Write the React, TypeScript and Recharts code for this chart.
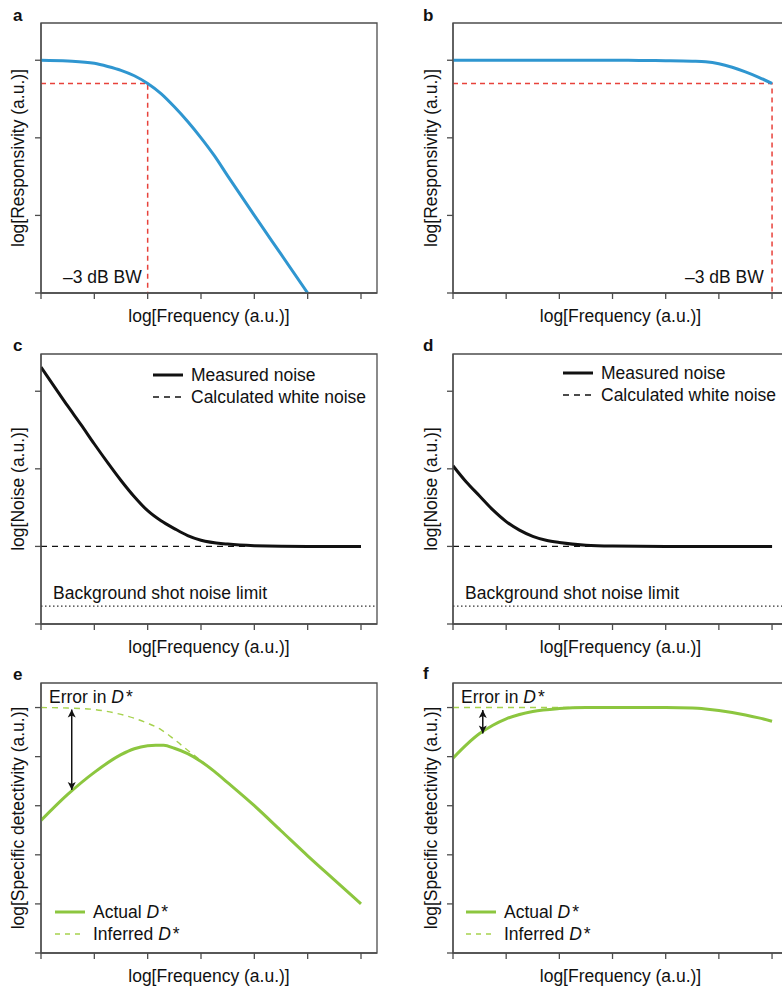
import React from "react";
import { LineChart, Line, XAxis, YAxis, ReferenceArea, Label, Legend } from "recharts";

const FONT = '"Liberation Sans", Arial, Helvetica, sans-serif';
const INK = "#111";
const AXIS = "#4d4d4d";
const BLUE = "#2f96d0";
const RED = "#e8423b";
const GREEN = "#8cc63f";
const GREEN_LIGHT = "#a6d24e";

// shared axes (arbitrary log units)
const freqTicks = [0, 1, 2, 3, 4, 5, 6];
const freqMax = 6.3;
const levelTicks = [0, 1, 2, 3];
const levelMax = 3.48;
const detTicks = [0, 1, 2, 3, 4, 5];
const detMax = 5.5;
const xTitle = "log[Frequency (a.u.)]";

// a: slow detector responsivity
const respAFreq = [0, 0.5, 1, 1.25, 1.5, 1.75, 2, 2.25, 2.5, 2.75, 3, 3.25, 3.5, 4, 4.5, 5];
const respAValue = [3.0, 2.99, 2.96, 2.92, 2.87, 2.8, 2.7, 2.57, 2.4, 2.21, 2.0, 1.77, 1.51, 1.0, 0.5, 0.0];
const bwAFreq = [0, 2, 2];
const bwAValue = [2.7, 2.7, 0];

// b: fast detector responsivity
const respBFreq = [0, 1, 2, 3, 3.5, 4, 4.5, 4.75, 5, 5.25, 5.5, 5.75, 6];
const respBValue = [3.0, 3.0, 3.0, 3.0, 2.998, 2.995, 2.988, 2.98, 2.955, 2.91, 2.85, 2.78, 2.7];
const bwBFreq = [0, 6, 6];
const bwBValue = [2.7, 2.7, 0];

// c, d: noise spectra
const noiseCFreq = [0, 0.25, 0.5, 0.75, 1, 1.25, 1.5, 1.75, 2, 2.25, 2.5, 2.75, 3, 3.5, 4, 5, 6];
const noiseCValue = [3.31, 3.06, 2.81, 2.57, 2.32, 2.08, 1.85, 1.64, 1.46, 1.33, 1.23, 1.14, 1.08, 1.03, 1.01, 1.0, 1.0];
const noiseDFreq = [0, 0.25, 0.5, 0.75, 1, 1.25, 1.5, 1.75, 2, 2.5, 3, 4, 5, 6];
const noiseDValue = [2.04, 1.83, 1.65, 1.47, 1.32, 1.21, 1.13, 1.08, 1.05, 1.015, 1.005, 1.0, 1.0, 1.0];
const whiteFreq = [0, 6];
const whiteValue = [1.0, 1.0];
const shotFreq = [0, freqMax];
const shotValue = [0.23, 0.23];
const noiseLegend = ["Measured noise", "Calculated white noise"];

// e, f: specific detectivity
const detEFreq = [0, 0.5, 1, 1.5, 1.75, 2, 2.15, 2.3, 2.5, 2.75, 3, 3.25, 3.5, 4, 4.5, 5, 5.5, 6];
const detEValue = [2.7, 3.23, 3.68, 4.04, 4.16, 4.22, 4.23, 4.23, 4.17, 4.06, 3.9, 3.7, 3.47, 3.0, 2.49, 1.98, 1.49, 1.0];
const infEFreq = [0, 0.5, 1, 1.5, 2, 2.25, 2.5, 2.75, 3, 3.25];
const infEValue = [5.0, 4.99, 4.96, 4.86, 4.68, 4.55, 4.35, 4.13, 3.92, 3.7];
const errEFreq = [0.576, 0.576];
const errEValue = [4.96, 3.32];
const detFFreq = [0, 0.25, 0.5, 0.75, 1, 1.5, 2, 2.5, 3, 4, 4.5, 4.75, 5, 5.25, 5.5, 5.75, 6];
const detFValue = [3.97, 4.24, 4.47, 4.64, 4.77, 4.92, 4.98, 5.0, 5.0, 5.0, 4.99, 4.97, 4.94, 4.9, 4.85, 4.79, 4.72];
const infFFreq = [0, 2.5];
const infFValue = [5.0, 5.0];
const errFFreq = [0.56, 0.56];
const errFValue = [4.95, 4.47];
const detLegend = ["Actual", "Inferred"];

const rows = (xs: number[], ys: number[]) => xs.map((x, i) => ({ x, y: ys[i] }));

const LEFT = { left: 0, width: 390, yAxisWidth: 41, right: 13, yLabelOffset: 18 };
const RIGHT = { left: 390, width: 400, yAxisWidth: 63, right: 2, yLabelOffset: 41 };
const ROW1 = { top: 0, height: 330, marginTop: 23, xAxisHeight: 37 };
const ROW2 = { top: 330, height: 330, marginTop: 24, xAxisHeight: 36 };
const ROW3 = { top: 660, height: 329, marginTop: 23, xAxisHeight: 36 };

const arrowHead = (props: any) => {
  const { cx, cy, index } = props;
  const dir = index === 0 ? 1 : -1; // first point is the upper tip
  const d = `M${cx},${cy} L${cx - 4},${cy + dir * 8} L${cx},${cy + dir * 6} L${cx + 4},${cy + dir * 8} Z`;
  return <path key={`ah-${index}`} d={d} fill={INK} />;
};

type Item = { label: React.ReactNode; color: string; width: number; dash?: string };

function LegendBox({ items }: { items: Item[] }) {
  return (
    <div style={{ fontFamily: FONT, fontSize: 17.5, color: INK }}>
      {items.map((it, i) => (
        <div key={i} style={{ display: "flex", alignItems: "center", height: 22, whiteSpace: "nowrap" }}>
          <svg width={30} height={6} style={{ marginRight: 8 }}>
            <line x1={0} y1={3} x2={30} y2={3} stroke={it.color} strokeWidth={it.width} strokeDasharray={it.dash} />
          </svg>
          <span>{it.label}</span>
        </div>
      ))}
    </div>
  );
}

const Dstar = () => (
  <>
    <i>D</i>
    <span style={{ marginLeft: 2 }}>*</span>
  </>
);

function Panel({ col, row, yMax, yTicks, yLabel, children }: any) {
  return (
    <div style={{ position: "absolute", left: col.left, top: row.top }}>
      <LineChart
        width={col.width}
        height={row.height}
        margin={{ top: row.marginTop, right: col.right, bottom: 0, left: 0 }}
      >
        <XAxis
          dataKey="x"
          type="number"
          domain={[0, freqMax]}
          ticks={freqTicks}
          interval={0}
          tickFormatter={() => ""}
          tickSize={6}
          height={row.xAxisHeight}
          stroke={AXIS}
          strokeWidth={1.3}
          allowDataOverflow
        >
          <Label value={xTitle} position="insideBottom" offset={row.xAxisHeight - 29} fill={INK} fontSize={17.5} />
        </XAxis>
        <YAxis
          type="number"
          domain={[0, yMax]}
          ticks={yTicks}
          interval={0}
          tickFormatter={() => ""}
          tickSize={6}
          width={col.yAxisWidth}
          stroke={AXIS}
          strokeWidth={1.3}
          allowDataOverflow
        >
          <Label
            value={yLabel}
            angle={-90}
            position="insideLeft"
            offset={col.yLabelOffset}
            fill={INK}
            fontSize={17.5}
            style={{ textAnchor: "middle" }}
          />
        </YAxis>
        <ReferenceArea x1={0} x2={freqMax} y1={0} y2={yMax} fill="none" stroke={AXIS} strokeWidth={1.3} ifOverflow="visible" />
        {children}
      </LineChart>
    </div>
  );
}

const line = (key: string, data: any[], color: string, width: number, opts: any = {}) => (
  <Line
    key={key}
    data={data}
    dataKey="y"
    type={opts.type ?? "monotone"}
    stroke={color}
    strokeWidth={width}
    strokeDasharray={opts.dash}
    dot={opts.dot ?? false}
    activeDot={false}
    legendType="none"
    isAnimationActive={false}
  />
);

const noteStyle = (left: number, top: number): React.CSSProperties => ({
  position: "absolute",
  left,
  top,
  fontSize: 17.5,
  lineHeight: "18px",
  whiteSpace: "nowrap",
  color: INK,
});

const letterStyle = (left: number, top: number): React.CSSProperties => ({
  position: "absolute",
  left,
  top,
  fontSize: 17,
  lineHeight: "18px",
  fontWeight: 700,
  color: INK,
});

export default function App() {
  const noiseItems: Item[] = [
    { label: noiseLegend[0], color: INK, width: 3 },
    { label: noiseLegend[1], color: INK, width: 1.4, dash: "6 5" },
  ];
  const detItems: Item[] = [
    { label: <>{detLegend[0]} <Dstar /></>, color: GREEN, width: 3 },
    { label: <>{detLegend[1]} <Dstar /></>, color: GREEN_LIGHT, width: 1.4, dash: "5 5" },
  ];

  return (
    <div
      style={{
        position: "absolute",
        left: 0,
        top: 0,
        width: 782,
        height: 989,
        overflow: "hidden",
        background: "#fff",
        fontFamily: FONT,
      }}
    >
      <Panel col={LEFT} row={ROW1} yMax={levelMax} yTicks={levelTicks} yLabel="log[Responsivity (a.u.)]">
        {line("bwA", rows(bwAFreq, bwAValue), RED, 1.5, { type: "linear", dash: "5 4" })}
        {line("respA", rows(respAFreq, respAValue), BLUE, 3)}
      </Panel>
      <Panel col={RIGHT} row={ROW1} yMax={levelMax} yTicks={levelTicks} yLabel="log[Responsivity (a.u.)]">
        {line("bwB", rows(bwBFreq, bwBValue), RED, 1.5, { type: "linear", dash: "5 4" })}
        {line("respB", rows(respBFreq, respBValue), BLUE, 3)}
      </Panel>

      <Panel col={LEFT} row={ROW2} yMax={levelMax} yTicks={levelTicks} yLabel="log[Noise (a.u.)]">
        {line("shotC", rows(shotFreq, shotValue), "#333", 1.3, { type: "linear", dash: "1.5 2.5" })}
        {line("whiteC", rows(whiteFreq, whiteValue), INK, 1.4, { type: "linear", dash: "6 5" })}
        {line("noiseC", rows(noiseCFreq, noiseCValue), INK, 3)}
        <Legend
          layout="vertical"
          align="center"
          verticalAlign="middle"
          wrapperStyle={{ left: 153, top: 34, width: "auto" }}
          content={() => <LegendBox items={noiseItems} />}
        />
      </Panel>
      <Panel col={RIGHT} row={ROW2} yMax={levelMax} yTicks={levelTicks} yLabel="log[Noise (a.u.)]">
        {line("shotD", rows(shotFreq, shotValue), "#333", 1.3, { type: "linear", dash: "1.5 2.5" })}
        {line("whiteD", rows(whiteFreq, whiteValue), INK, 1.4, { type: "linear", dash: "6 5" })}
        {line("noiseD", rows(noiseDFreq, noiseDValue), INK, 3)}
        <Legend
          layout="vertical"
          align="center"
          verticalAlign="middle"
          wrapperStyle={{ left: 173, top: 32, width: "auto" }}
          content={() => <LegendBox items={noiseItems} />}
        />
      </Panel>

      <Panel col={LEFT} row={ROW3} yMax={detMax} yTicks={detTicks} yLabel="log[Specific detectivity (a.u.)]">
        {line("infE", rows(infEFreq, infEValue), GREEN_LIGHT, 1.4, { dash: "6 5" })}
        {line("detE", rows(detEFreq, detEValue), GREEN, 3)}
        {line("errE", rows(errEFreq, errEValue), INK, 1.5, { type: "linear", dot: arrowHead })}
        <Legend
          layout="vertical"
          align="center"
          verticalAlign="middle"
          wrapperStyle={{ left: 55, top: 241, width: "auto" }}
          content={() => <LegendBox items={detItems} />}
        />
      </Panel>
      <Panel col={RIGHT} row={ROW3} yMax={detMax} yTicks={detTicks} yLabel="log[Specific detectivity (a.u.)]">
        {line("infF", rows(infFFreq, infFValue), GREEN_LIGHT, 1.4, { type: "linear", dash: "6 5" })}
        {line("detF", rows(detFFreq, detFValue), GREEN, 3)}
        {line("errF", rows(errFFreq, errFValue), INK, 1.5, { type: "linear", dot: arrowHead })}
        <Legend
          layout="vertical"
          align="center"
          verticalAlign="middle"
          wrapperStyle={{ left: 76, top: 241, width: "auto" }}
          content={() => <LegendBox items={detItems} />}
        />
      </Panel>

      <div style={letterStyle(13, 7)}>a</div>
      <div style={letterStyle(423, 7)}>b</div>
      <div style={letterStyle(13, 337)}>c</div>
      <div style={letterStyle(423, 337)}>d</div>
      <div style={letterStyle(13, 666)}>e</div>
      <div style={letterStyle(423, 665)}>f</div>

      <div style={noteStyle(63, 268)}>–3 dB BW</div>
      <div style={noteStyle(685, 268)}>–3 dB BW</div>
      <div style={noteStyle(53, 584)}>Background shot noise limit</div>
      <div style={noteStyle(465, 584)}>Background shot noise limit</div>
      <div style={noteStyle(49, 688)}>
        Error in <Dstar />
      </div>
      <div style={noteStyle(461, 688)}>
        Error in <Dstar />
      </div>
    </div>
  );
}
